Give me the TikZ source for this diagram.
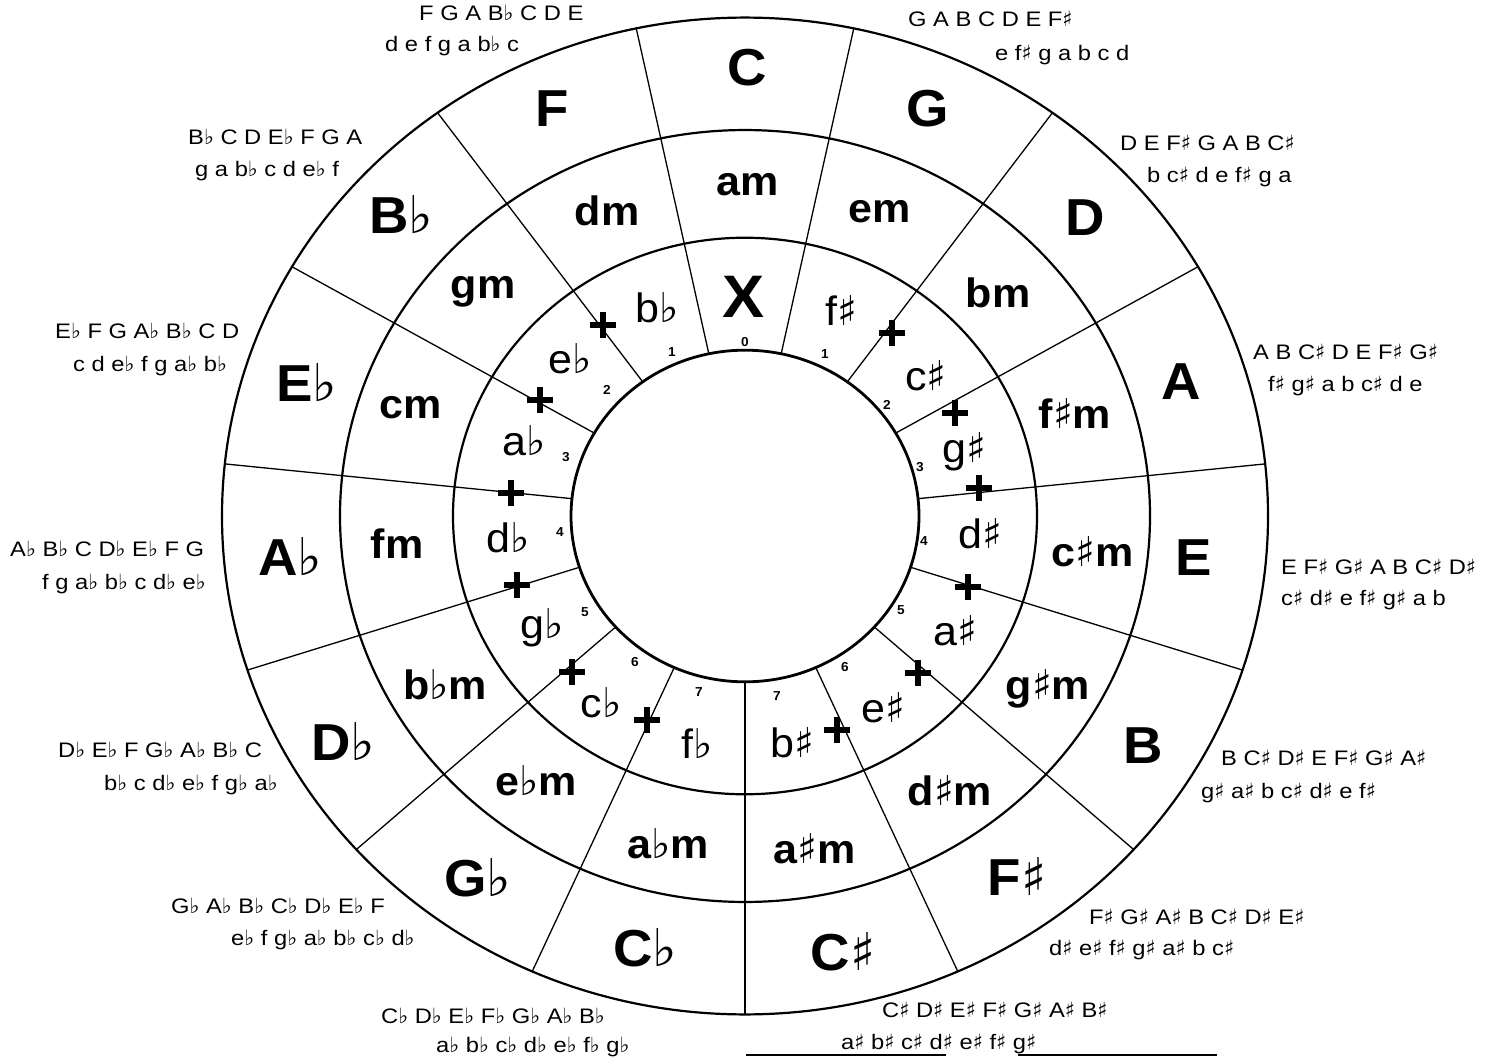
\documentclass[tikz,border=0pt]{standalone}
\usepackage{fontspec}
\setmainfont{Liberation Sans}[FakeStretch=1.05]
\newfontfamily\scfont{Liberation Sans}[FakeStretch=1.13]
\newfontfamily\symfont{DejaVu Sans}
\newcommand\fl{{\symfont\mdseries\char"266D}}
\newcommand\shp{{\symfont\mdseries\char"266F}}
\begin{document}
\begin{tikzpicture}[x=1pt,y=-1pt,
  big/.style={anchor=base,inner sep=0pt,font=\fontsize{52}{52}\selectfont\bfseries},
  mid/.style={anchor=base,inner sep=0pt,font=\fontsize{41}{41}\selectfont\bfseries},
  inn/.style={anchor=base,inner sep=0pt,font=\fontsize{41}{41}\selectfont},
  num/.style={inner sep=0pt,font=\fontsize{13}{13}\selectfont\bfseries},
  sc/.style={anchor=base west,inner sep=0pt,font=\fontsize{21}{21}\selectfont\scfont},
  ring/.style={line width=2.2pt},
  spoke/.style={line width=1.3pt},
  plusmark/.style={inner sep=0pt,minimum size=26pt,
    path picture={\draw[line width=5.4pt]
      (path picture bounding box.west)--(path picture bounding box.east)
      (path picture bounding box.north)--(path picture bounding box.south);}}]
\useasboundingbox[fill=white] (0,0) rectangle (1494,1057);
% rings and spokes
\begin{scope}[shift={(745,516)},yscale=-0.953]
  \draw[line width=2.8pt] (0,0) circle[radius=174];
  \draw[ring] (0,0) circle[radius=292];
  \draw[ring] (0,0) circle[radius=405];
  \draw[ring] (0,0) circle[radius=523];
  \foreach \a in {102,78,...,-234} \draw[spoke] (\a:174) -- (\a:523);
\end{scope}
% plus marks
\foreach \p [count=\i] in {(892,333),(955,413),(979,488),(968,587),(918,673),(837,730),
  (647,720),(572,672),(517,585),(511,493),(540,400),(603,325)}
  \node[plusmark] (plus\i) at \p {};
% outer ring
\node[big] (kC) at (747,85) {C};
\node[big] (kG) at (928,126) {G};
\node[big] (kD) at (1085,235) {D};
\node[big] (kA) at (1181,399) {A};
\node[big] (kE) at (1194,575) {E};
\node[big] (kB) at (1143,763) {B};
\node[big] (kFs) at (1017,895) {F\shp};
\node[big] (kCs) at (843,970) {C\shp};
\node[big] (kCb) at (645,966) {C\fl};
\node[big] (kGb) at (478,896) {G\fl};
\node[big] (kDb) at (343,760) {D\fl};
\node[big] (kAb) at (290,575) {A\fl};
\node[big] (kEb) at (307,401) {E\fl};
\node[big] (kBb) at (401,233) {B\fl};
\node[big] (kF) at (552,126) {F};
% middle ring
\node[mid] (mA) at (748,195) {am};
\node[mid] (mE) at (880,222) {em};
\node[mid] (mB) at (998,307) {bm};
\node[mid] (mFs) at (1075,428) {f\shp m};
\node[mid] (mCs) at (1093,566) {c\shp m};
\node[mid] (mGs) at (1048,699) {g\shp m};
\node[mid] (mDs) at (950,805) {d\shp m};
\node[mid] (mAs) at (815,863) {a\shp m};
\node[mid] (mAb) at (668,858) {a\fl m};
\node[mid] (mEb) at (536,795) {e\fl m};
\node[mid] (mBb) at (445,699) {b\fl m};
\node[mid] (mF) at (397,558) {fm};
\node[mid] (mC) at (411,418) {cm};
\node[mid] (mG) at (483,298) {gm};
\node[mid] (mD) at (607,225) {dm};
% inner ring
\node[anchor=base,inner sep=0pt,font=\fontsize{60}{60}\selectfont\bfseries] (iX) at (744,317) {X};
\node[inn] (iFs) at (841,325) {f\shp};
\node[inn] (iCs) at (926,390) {c\shp};
\node[inn] (iGs) at (964,462) {g\shp};
\node[inn] (iDs) at (980,548) {d\shp};
\node[inn] (iAs) at (955,645) {a\shp};
\node[inn] (iEs) at (883,722) {e\shp};
\node[inn] (iBs) at (792,757) {b\shp};
\node[inn] (iFb) at (697,758) {f\fl};
\node[inn] (iCb) at (601,717) {c\fl};
\node[inn] (iGb) at (542,638) {g\fl};
\node[inn] (iDb) at (508,552) {d\fl};
\node[inn] (iAb) at (524,455) {a\fl};
\node[inn] (iEb) at (570,373) {e\fl};
\node[inn] (iBb) at (657,322) {b\fl};
% numbers
\node[num] (n0) at (745,342) {0};
\node[num] (n1l) at (672,352) {1};
\node[num] (n1r) at (825,354) {1};
\node[num] (n2l) at (607,390) {2};
\node[num] (n2r) at (887,405) {2};
\node[num] (n3l) at (566,457) {3};
\node[num] (n3r) at (920,467) {3};
\node[num] (n4l) at (560,532) {4};
\node[num] (n4r) at (924,541) {4};
\node[num] (n5l) at (585,612) {5};
\node[num] (n5r) at (901,610) {5};
\node[num] (n6l) at (635,662) {6};
\node[num] (n6r) at (845,667) {6};
\node[num] (n7l) at (699,692) {7};
\node[num] (n7r) at (777,696) {7};
% scales
\node[sc] (sF1) at (419,21) {F G A B\fl{} C D E};
\node[sc] (sF2) at (385,52) {d e f g a b\fl{} c};
\node[sc] (sG1) at (908,27) {G A B C D E F\shp};
\node[sc] (sG2) at (995,60) {e f\shp{} g a b c d};
\node[sc] (sD1) at (1120,150) {D E F\shp{} G A B C\shp};
\node[sc] (sD2) at (1147,182) {b c\shp{} d e f\shp{} g a};
\node[sc] (sA1) at (1253,359) {A B C\shp{} D E F\shp{} G\shp};
\node[sc] (sA2) at (1268,391) {f\shp{} g\shp{} a b c\shp{} d e};
\node[sc] (sE1) at (1281,574) {E F\shp{} G\shp{} A B C\shp{} D\shp};
\node[sc] (sE2) at (1281,605) {c\shp{} d\shp{} e f\shp{} g\shp{} a b};
\node[sc] (sB1) at (1221,765) {B C\shp{} D\shp{} E F\shp{} G\shp{} A\shp};
\node[sc] (sB2) at (1201,798) {g\shp{} a\shp{} b c\shp{} d\shp{} e f\shp};
\node[sc] (sFs1) at (1089,924) {F\shp{} G\shp{} A\shp{} B C\shp{} D\shp{} E\shp};
\node[sc] (sFs2) at (1049,955) {d\shp{} e\shp{} f\shp{} g\shp{} a\shp{} b c\shp};
\node[sc] (sCs1) at (882,1017) {C\shp{} D\shp{} E\shp{} F\shp{} G\shp{} A\shp{} B\shp};
\node[sc] (sCs2) at (841,1049) {a\shp{} b\shp{} c\shp{} d\shp{} e\shp{} f\shp{} g\shp};
\node[sc] (sCb1) at (381,1023) {C\fl{} D\fl{} E\fl{} F\fl{} G\fl{} A\fl{} B\fl};
\node[sc] (sCb2) at (436,1052) {a\fl{} b\fl{} c\fl{} d\fl{} e\fl{} f\fl{} g\fl};
\node[sc] (sGb1) at (171,913) {G\fl{} A\fl{} B\fl{} C\fl{} D\fl{} E\fl{} F};
\node[sc] (sGb2) at (231,945) {e\fl{} f g\fl{} a\fl{} b\fl{} c\fl{} d\fl};
\node[sc] (sDb1) at (58,757) {D\fl{} E\fl{} F G\fl{} A\fl{} B\fl{} C};
\node[sc] (sDb2) at (104,790) {b\fl{} c d\fl{} e\fl{} f g\fl{} a\fl};
\node[sc] (sAb1) at (10,556) {A\fl{} B\fl{} C D\fl{} E\fl{} F G};
\node[sc] (sAb2) at (42,589) {f g a\fl{} b\fl{} c d\fl{} e\fl};
\node[sc] (sEb1) at (55,338) {E\fl{} F G A\fl{} B\fl{} C D};
\node[sc] (sEb2) at (73,371) {c d e\fl{} f g a\fl{} b\fl};
\node[sc] (sBb1) at (188,144) {B\fl{} C D E\fl{} F G A};
\node[sc] (sBb2) at (195,176) {g a b\fl{} c d e\fl{} f};
% bottom rules
\draw[line width=1.3pt] (746,1055) -- (946,1055);
\draw[line width=1.3pt] (1018,1055) -- (1217,1055);
\end{tikzpicture}
\end{document}
